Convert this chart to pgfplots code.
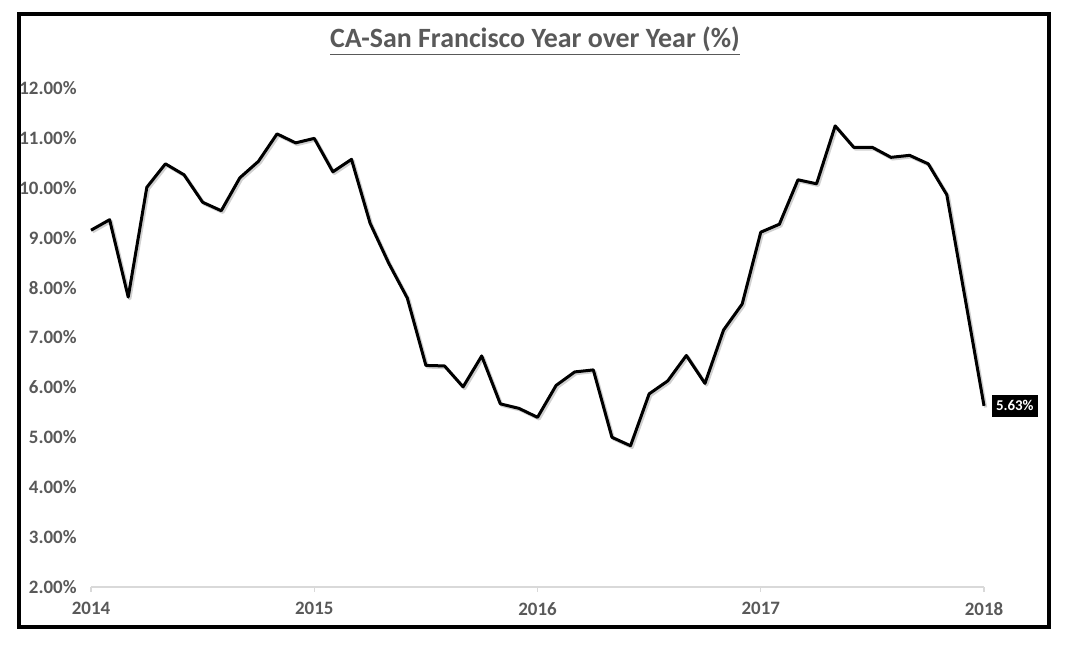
\documentclass[border=0pt]{standalone}
\usepackage{pgfplots}
\pgfplotsset{compat=1.18}
\usepackage{pgfplotstable}
\usepackage{fontspec}
\setmainfont{Carlito}
\definecolor{txt}{HTML}{595959}
\definecolor{axl}{HTML}{D9D9D9}

\pgfplotstableread{
m v
0 9.15
1 9.36
2 7.81
3 10.01
4 10.48
5 10.26
6 9.71
7 9.54
8 10.20
9 10.53
10 11.08
11 10.90
12 10.99
13 10.32
14 10.57
15 9.29
16 8.49
17 7.79
18 6.44
19 6.43
20 6.01
21 6.63
22 5.67
23 5.58
24 5.40
25 6.04
26 6.31
27 6.35
28 5.00
29 4.83
30 5.87
31 6.13
32 6.64
33 6.08
34 7.15
35 7.67
36 9.11
37 9.27
38 10.16
39 10.08
40 11.24
41 10.81
42 10.81
43 10.61
44 10.65
45 10.48
46 9.86
47 7.75
48 5.63
}\sfdata

\begin{document}
\begin{tikzpicture}
\begin{scope}[x=0.5bp,y=0.5bp]
\fill[white] (0,0) rectangle (1080,653);
\useasboundingbox (0,0) rectangle (1080,653);
\draw[line width=1.75bp] (19,26) rectangle (1049,639);
\node[font=\fontsize{14}{16}\selectfont\bfseries, text=txt] at (535,612) {\underline{CA-San Francisco Year over Year (\%)}};
\end{scope}
\begin{axis}[
  at={(45.5bp,33bp)}, anchor=south west,
  scale only axis, width=446.5bp, height=249.5bp,
  xmin=0, xmax=48, ymin=2, ymax=12,
  separate axis lines,
  axis x line*=bottom, axis y line*=left,
  x axis line style={draw=axl, line width=0.6bp, -},
  y axis line style={draw=none},
  xtick={0,12,24,36,48},
  xticklabels={2014,2015,2016,2017,2018},
  ytick={2,3,...,12},
  yticklabel={\pgfmathprintnumber[fixed,fixed zerofill,precision=2]{\tick}\%},
  /pgf/number format/assume math mode=true,
  tick align=outside,
  major tick length=2.5bp,
  xtick style={draw=axl, line width=0.6bp},
  ytick style={draw=none},
  tick label style={font=\fontsize{9.5}{11}\selectfont\bfseries, text=txt},
  yticklabel style={inner sep=0pt, xshift=-4.5bp},
  xticklabel style={inner sep=0pt, yshift=-5bp},
  clip=false,
]
\addplot[black!30, line width=1.6bp, line join=round, opacity=0.6, transform canvas={xshift=0.8bp,yshift=-0.8bp}] table[x=m,y=v] {\sfdata};
\addplot[black, line width=1.5bp, line join=round] table[x=m,y=v] {\sfdata};
\node[anchor=west, fill=black, text=white, font=\fontsize{7.5}{9}\selectfont\bfseries, inner xsep=2bp, inner ysep=3bp, xshift=3.8bp] at (axis cs:48,5.63) {5.63\%};
\end{axis}
\end{tikzpicture}
\end{document}
